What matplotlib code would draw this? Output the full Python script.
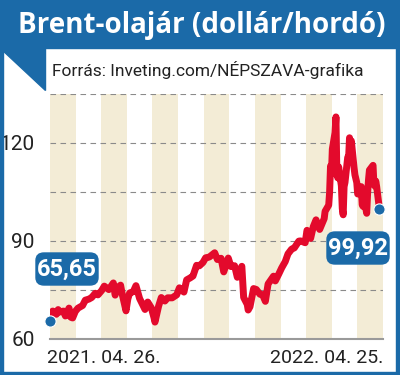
import matplotlib
matplotlib.use("Agg")
import matplotlib.pyplot as plt
import matplotlib.dates as mdates
from matplotlib.patches import Rectangle, Polygon, FancyBboxPatch
import pandas as pd

# Brent close, USD/barrel
dates = ["2021-04-26", "2021-04-29", "2021-05-03", "2021-05-05", "2021-05-07", "2021-05-11",
         "2021-05-13", "2021-05-17", "2021-05-19", "2021-05-21", "2021-05-24", "2021-05-27",
         "2021-06-01", "2021-06-04", "2021-06-08", "2021-06-11", "2021-06-15", "2021-06-18",
         "2021-06-22", "2021-06-25", "2021-06-30", "2021-07-05", "2021-07-07", "2021-07-09",
         "2021-07-13", "2021-07-15", "2021-07-19", "2021-07-21", "2021-07-23", "2021-07-27",
         "2021-07-30", "2021-08-03", "2021-08-06", "2021-08-09", "2021-08-12", "2021-08-16",
         "2021-08-19", "2021-08-20", "2021-08-24", "2021-08-27", "2021-08-31", "2021-09-03",
         "2021-09-08", "2021-09-13", "2021-09-16", "2021-09-21", "2021-09-24", "2021-09-28",
         "2021-10-01", "2021-10-05", "2021-10-08", "2021-10-12", "2021-10-15", "2021-10-19",
         "2021-10-25", "2021-10-28", "2021-11-01", "2021-11-04", "2021-11-09", "2021-11-12",
         "2021-11-16", "2021-11-19", "2021-11-24", "2021-11-26", "2021-11-30", "2021-12-01",
         "2021-12-03", "2021-12-07", "2021-12-10", "2021-12-14", "2021-12-17", "2021-12-20",
         "2021-12-23", "2021-12-29", "2021-12-31", "2022-01-04", "2022-01-07", "2022-01-11",
         "2022-01-14", "2022-01-18", "2022-01-21", "2022-01-26", "2022-01-28", "2022-02-02",
         "2022-02-04", "2022-02-08", "2022-02-11", "2022-02-14", "2022-02-16", "2022-02-18",
         "2022-02-23", "2022-02-24", "2022-02-28", "2022-03-01", "2022-03-02", "2022-03-03",
         "2022-03-04", "2022-03-07", "2022-03-08", "2022-03-09", "2022-03-10", "2022-03-11",
         "2022-03-14", "2022-03-15", "2022-03-16", "2022-03-17", "2022-03-18", "2022-03-21",
         "2022-03-22", "2022-03-23", "2022-03-24", "2022-03-25", "2022-03-28", "2022-03-29",
         "2022-03-31", "2022-04-01", "2022-04-05", "2022-04-06", "2022-04-07", "2022-04-08",
         "2022-04-11", "2022-04-12", "2022-04-13", "2022-04-14", "2022-04-18", "2022-04-19",
         "2022-04-20", "2022-04-21", "2022-04-22", "2022-04-25"]
prices = [65.65, 68.56, 67.56, 69.0, 68.28, 68.55,
          67.05, 69.46, 66.66, 66.44, 68.46, 69.46,
          70.25, 71.89, 72.22, 72.69, 73.99, 73.51,
          74.81, 76.18, 75.13, 77.16, 73.43, 75.55,
          76.49, 73.47, 68.62, 72.23, 74.10, 74.48,
          76.33, 72.41, 70.70, 69.04, 71.31, 69.51,
          66.45, 65.18, 70.05, 72.70, 71.63, 72.61,
          72.60, 73.51, 75.67, 74.36, 78.09, 78.72,
          79.28, 82.56, 82.39, 83.42, 84.86, 85.08,
          86.40, 84.32, 84.71, 80.54, 84.78, 82.17,
          82.43, 78.89, 82.25, 72.72, 70.57, 68.87,
          69.88, 75.44, 75.15, 73.70, 73.52, 71.52,
          76.85, 79.23, 77.78, 80.00, 81.75, 83.72,
          86.06, 87.51, 87.89, 89.96, 90.03, 89.47,
          93.27, 90.78, 94.44, 96.48, 94.81, 93.54,
          96.84, 99.08, 100.99, 104.97, 112.93, 110.46,
          118.11, 123.21, 127.98, 111.14, 109.33, 112.67,
          106.90, 99.91, 98.02, 106.64, 107.93, 115.62,
          115.48, 121.60, 119.03, 120.65, 112.48, 110.23,
          107.91, 104.39, 106.64, 101.07, 100.58, 102.78,
          98.48, 104.64, 108.78, 111.70, 113.16, 107.25,
          106.80, 108.33, 106.65, 99.92]

y_ticks = [60, 90, 120]
grid_levels = [75, 90, 105, 120, 135]
first_label = "2021. 04. 26."
last_label = "2022. 04. 25."

blue = "#1b6aa8"
red = "#e30a2c"
beige = "#f3ecd6"
narrow = ["Roboto", "DejaVu Sans"]

x = pd.to_datetime(dates)
xs = mdates.date2num(x)

fig = plt.figure(figsize=(4, 3.75), dpi=100)
W, H = 400, 375

def fx(px):
    return px / W

def fy(py):
    return 1 - py / H

# frame + header
fig.patches.append(Rectangle((0, fy(48)), 1, 48 / H, transform=fig.transFigure,
                             color=blue, zorder=0))
fig.patches.append(Polygon([(0, fy(48)), (fx(45), fy(48)), (fx(45), fy(90))],
                           closed=True, transform=fig.transFigure, color=blue, zorder=0))
fig.patches.append(Rectangle((0, 0), fx(3), 1, transform=fig.transFigure, color=blue, zorder=0))
fig.patches.append(Rectangle((fx(396), 0), fx(4), 1, transform=fig.transFigure, color=blue, zorder=0))
fig.patches.append(Rectangle((0, 0), 1, 3 / H, transform=fig.transFigure, color=blue, zorder=0))

fig.text(0.505, fy(25), "Brent-olajár (dollár/hordó)", color="white", fontsize=20,
         fontweight="bold", family=["Open Sans", "DejaVu Sans"], ha="center", va="center")
fig.text(fx(52), fy(70), "Forrás: Inveting.com/NÉPSZAVA-grafika", color="#222222",
         fontsize=12.5, family=narrow, ha="left", va="center")

ax = fig.add_axes([fx(50), fy(339), fx(333), (339 - 94) / H])
x0, x1 = xs[0], xs[0] + 368
ax.set_xlim(x0, x1)
ax.set_ylim(60, 135)

# alternating stripes
step = (x1 - x0) / 13
for k in range(0, 13, 2):
    ax.axvspan(x0 + k * step, x0 + (k + 1) * step, color=beige, lw=0, zorder=0)

for g in grid_levels:
    ax.axhline(g, color="#8a8a8a", lw=0.8, ls=(0, (5, 4)), zorder=1)
ax.axhline(60, color="#9a9a9a", lw=1.5, zorder=1, clip_on=False)

ax.plot(xs, prices, color=red, lw=5, solid_joinstyle="round", solid_capstyle="round", zorder=3)
ax.scatter([xs[0], xs[-1]], [prices[0], prices[-1]], s=65, color=blue, zorder=4,
           edgecolor="white", linewidth=0.8, clip_on=False)

for s in ax.spines.values():
    s.set_visible(False)
ax.set_xticks([])
ax.set_yticks(y_ticks)
ax.set_yticklabels([str(t) for t in y_ticks], family=narrow,
                   fontsize=15, color="#222222")
ax.tick_params(axis="y", length=0, pad=11)
ax.patch.set_alpha(0)

fig.text(fx(47), fy(358), first_label, family=narrow, fontsize=14,
         color="#222222", ha="left", va="center")
fig.text(fx(383), fy(358), last_label, family=narrow, fontsize=14,
         color="#222222", ha="right", va="center")

# value callouts
def callout(cx, cy, w, h, txt):
    box = FancyBboxPatch((fx(cx - w / 2), fy(cy + h / 2)), fx(w), h / H,
                         boxstyle="round,pad=0,rounding_size=0.02",
                         transform=fig.transFigure, color=blue, zorder=5)
    fig.patches.append(box)
    fig.text(fx(cx), fy(cy), txt, color="white", fontsize=17, fontweight="bold",
             family=narrow, ha="center", va="center", zorder=6)

callout(67, 269, 62, 32, "65,65")
callout(358, 248, 62, 32, "99,92")

fig.savefig("out.png", dpi=100)
